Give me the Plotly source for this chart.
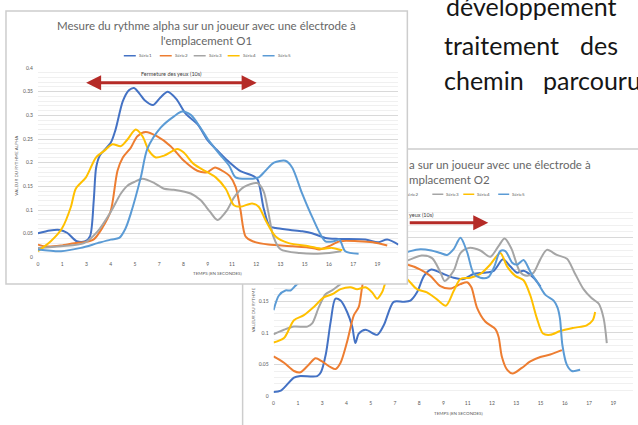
import plotly.graph_objects as go

W, H = 638, 425

# ---------------- data ----------------
TICK_LABELS = ["0", "1", "3", "4", "5", "7", "8", "9", "11", "12", "13", "15", "16", "17", "19"]
SERIES_NAMES = ["Série1", "Série2", "Série3", "Série4", "Série5"]
SERIES_COLORS = ["#4472C4", "#ED7D31", "#A5A5A5", "#FFC000", "#5B9BD5"]

# Chart O1 (x = position along the category axis, y = alpha rhythm value)
o1_s1_x = [0, 0.5, 0.9, 1.2, 1.6, 1.95, 2.15, 2.3, 2.4, 2.55, 3.0, 3.2, 3.5, 3.75, 3.96, 4.2, 4.4, 4.75, 5.05, 5.35, 5.7, 6.1, 6.6, 7.0, 7.4, 7.8, 8.35, 8.8, 9.05, 9.3, 9.55, 9.8, 10.4, 10.9, 11.3, 11.85, 12.4, 13.5, 14.03, 14.4, 14.86]
o1_s1_y = [0.051, 0.057, 0.058, 0.052, 0.034, 0.034, 0.045, 0.12, 0.19, 0.215, 0.242, 0.27, 0.33, 0.353, 0.358, 0.345, 0.332, 0.322, 0.338, 0.35, 0.335, 0.303, 0.28, 0.247, 0.226, 0.205, 0.182, 0.174, 0.165, 0.105, 0.066, 0.062, 0.058, 0.055, 0.051, 0.041, 0.039, 0.0375, 0.032, 0.0375, 0.027]
o1_s2_x = [0, 0.3, 0.95, 1.5, 1.9, 2.3, 2.65, 3.0, 3.28, 3.5, 3.83, 4.1, 4.44, 4.9, 5.47, 6.02, 6.57, 6.98, 7.3, 7.6, 7.9, 8.15, 8.35, 8.56, 8.85, 9.5, 10.5, 11.3, 11.6, 12.0, 12.45, 13.2, 13.8, 14.4]
o1_s2_y = [0.027, 0.023, 0.025, 0.03, 0.032, 0.038, 0.062, 0.098, 0.183, 0.211, 0.232, 0.256, 0.265, 0.256, 0.235, 0.204, 0.183, 0.18, 0.19, 0.183, 0.172, 0.149, 0.1, 0.044, 0.034, 0.027, 0.0236, 0.02, 0.0167, 0.0236, 0.034, 0.034, 0.032, 0.025]
o1_s3_x = [0, 0.95, 1.9, 2.46, 3.0, 3.42, 3.7, 4.0, 4.31, 4.8, 5.2, 5.6, 6.3, 6.7, 7.1, 7.4, 7.8, 8.1, 8.5, 9.04, 9.3, 9.5, 9.7, 10.0, 10.8, 11.7, 12.5]
o1_s3_y = [0.02, 0.0236, 0.03, 0.055, 0.096, 0.135, 0.152, 0.16, 0.166, 0.157, 0.145, 0.143, 0.135, 0.121, 0.096, 0.079, 0.1, 0.128, 0.149, 0.157, 0.14, 0.095, 0.045, 0.017, 0.009, 0.008, 0.013]
o1_s4_x = [0, 0.53, 1.0, 1.36, 1.56, 1.98, 2.39, 2.73, 3.07, 3.42, 3.69, 4.03, 4.31, 4.58, 4.86, 5.2, 5.75, 6.0, 6.43, 6.98, 7.33, 7.74, 8.08, 8.35, 8.83, 9.1, 9.38, 9.8, 10.34, 11.16, 11.72, 12.13, 12.55]
o1_s4_y = [0.013, 0.034, 0.062, 0.107, 0.145, 0.169, 0.211, 0.225, 0.239, 0.235, 0.249, 0.27, 0.256, 0.225, 0.211, 0.215, 0.229, 0.222, 0.197, 0.18, 0.169, 0.145, 0.11, 0.107, 0.114, 0.107, 0.079, 0.044, 0.03, 0.0236, 0.018, 0.02, 0.015]
o1_s5_x = [0, 0.95, 1.77, 2.46, 3.0, 3.35, 3.6, 3.83, 4.24, 4.51, 5.06, 5.61, 5.95, 6.3, 6.7, 7.0, 7.46, 7.88, 8.15, 8.7, 9.1, 9.38, 9.73, 10.2, 10.48, 10.89, 11.3, 11.85, 12.2, 12.43, 12.67, 13.22]
o1_s5_y = [0.0167, 0.013, 0.02, 0.03, 0.0375, 0.041, 0.06, 0.093, 0.169, 0.229, 0.274, 0.298, 0.308, 0.301, 0.274, 0.25, 0.22, 0.194, 0.169, 0.166, 0.169, 0.183, 0.2, 0.204, 0.19, 0.135, 0.086, 0.034, 0.034, 0.0375, 0.013, 0.0077]

# Chart O2
o2_s1_x = [0, 0.3, 0.84, 1.1, 1.8, 1.95, 2.15, 2.35, 2.55, 2.76, 3.03, 3.24, 3.37, 3.51, 3.79, 4.27, 4.54, 4.95, 5.36, 5.64, 5.91, 6.2, 6.5, 6.87, 7.42, 7.83, 8.24, 8.66, 9.07, 9.45, 9.75, 10.03, 10.3, 10.71, 11.0]
o2_s1_y = [0.007, 0.009, 0.0295, 0.032, 0.032, 0.038, 0.066, 0.117, 0.154, 0.151, 0.133, 0.11, 0.084, 0.099, 0.105, 0.097, 0.112, 0.149, 0.149, 0.151, 0.164, 0.19, 0.2, 0.195, 0.187, 0.185, 0.193, 0.195, 0.198, 0.216, 0.205, 0.195, 0.198, 0.187, 0.173]
o2_s2_x = [0, 0.43, 0.84, 1.11, 1.45, 1.73, 2.0, 2.35, 2.55, 2.76, 3.03, 3.31, 3.51, 3.72, 4.2, 5.0, 5.5, 6.05, 6.46, 6.87, 7.28, 7.7, 7.97, 8.15, 8.38, 8.72, 9.14, 9.27, 9.41, 9.62, 9.85, 10.23, 10.58, 10.99, 11.4, 11.88]
o2_s2_y = [0.063, 0.053, 0.04, 0.038, 0.05, 0.06, 0.055, 0.046, 0.043, 0.053, 0.086, 0.128, 0.141, 0.185, 0.22, 0.21, 0.208, 0.2, 0.19, 0.174, 0.17, 0.177, 0.18, 0.172, 0.14, 0.118, 0.106, 0.094, 0.062, 0.042, 0.036, 0.045, 0.055, 0.062, 0.066, 0.073]
o2_s3_x = [0, 0.43, 0.84, 1.39, 1.59, 1.87, 2.14, 2.41, 2.76, 3.5, 4.5, 5.2, 5.64, 6.1, 6.53, 6.87, 7.05, 7.42, 7.7, 8.05, 8.52, 8.93, 9.27, 9.52, 9.8, 10.16, 10.44, 10.71, 10.99, 11.26, 11.67, 12.09, 12.4, 12.77, 13.1, 13.4, 13.6, 13.73]
o2_s3_y = [0.098, 0.105, 0.11, 0.11, 0.115, 0.141, 0.161, 0.167, 0.177, 0.19, 0.205, 0.21, 0.216, 0.222, 0.218, 0.196, 0.182, 0.198, 0.226, 0.234, 0.23, 0.22, 0.237, 0.249, 0.233, 0.196, 0.19, 0.195, 0.216, 0.231, 0.223, 0.217, 0.195, 0.169, 0.155, 0.146, 0.123, 0.084]
o2_s4_x = [0, 0.43, 0.84, 1.25, 1.66, 2.07, 2.41, 2.76, 3.17, 3.44, 3.79, 4.06, 4.27, 4.47, 4.68, 5.1, 5.5, 5.91, 6.32, 6.73, 7.1, 7.42, 7.7, 8.11, 8.52, 8.93, 9.34, 9.62, 9.96, 10.3, 10.58, 10.85, 11.1, 11.4, 11.81, 12.36, 12.9, 13.15, 13.25]
o2_s4_y = [0.085, 0.092, 0.12, 0.128, 0.141, 0.156, 0.161, 0.169, 0.172, 0.169, 0.172, 0.164, 0.154, 0.164, 0.185, 0.195, 0.185, 0.169, 0.164, 0.153, 0.143, 0.166, 0.185, 0.187, 0.193, 0.208, 0.226, 0.205, 0.19, 0.183, 0.159, 0.123, 0.099, 0.097, 0.103, 0.108, 0.112, 0.12, 0.133]
o2_s5_x = [0, 0.22, 0.49, 0.7, 0.97, 2.0, 3.0, 4.0, 5.0, 5.64, 6.05, 6.5, 6.87, 7.15, 7.42, 7.7, 7.97, 8.24, 8.52, 8.85, 9.1, 9.34, 9.55, 9.85, 10.05, 10.3, 10.6, 10.87, 11.2, 11.54, 11.7, 11.8, 11.9, 12.08, 12.29, 12.63]
o2_s5_y = [0.136, 0.159, 0.167, 0.167, 0.177, 0.2, 0.21, 0.215, 0.22, 0.229, 0.232, 0.23, 0.226, 0.223, 0.232, 0.25, 0.228, 0.194, 0.187, 0.188, 0.205, 0.229, 0.229, 0.21, 0.208, 0.215, 0.195, 0.18, 0.16, 0.151, 0.14, 0.123, 0.081, 0.05, 0.04, 0.042]

o1_series = [(o1_s1_x, o1_s1_y), (o1_s2_x, o1_s2_y), (o1_s3_x, o1_s3_y), (o1_s4_x, o1_s4_y), (o1_s5_x, o1_s5_y)]
o2_series = [(o2_s1_x, o2_s1_y), (o2_s2_x, o2_s2_y), (o2_s3_x, o2_s3_y), (o2_s4_x, o2_s4_y), (o2_s5_x, o2_s5_y)]

# ---------------- helpers ----------------
CF = "Lato"
GREY = "#595959"
TITLE_GREY = "#666666"


def fx(px):
    return px / W


def fy(py):
    return 1 - py / H


def txt(text, px, py, size, color=GREY, xanchor="center", angle=0, family=CF):
    return dict(text=text, x=fx(px), y=fy(py), xref="paper", yref="paper", showarrow=False,
                xanchor=xanchor, yanchor="middle", textangle=angle,
                font=dict(size=size, color=color, family=family))


fig = go.Figure()

# chart O2 (drawn first, underneath)
for (xs, ys), name, col in zip(o2_series, SERIES_NAMES, SERIES_COLORS):
    fig.add_trace(go.Scatter(x=xs, y=ys, name=name, mode="lines", line=dict(color=col, width=2, shape="spline", smoothing=0.8),
                             xaxis="x", yaxis="y", showlegend=False, hoverinfo="skip"))

# cover panel for the O1 chart box (hides the O2 chart under it)
fig.add_trace(go.Scatter(x=[0.5], y=[0.5], mode="markers", marker=dict(size=1, color="rgba(0,0,0,0)"),
                         xaxis="x2", yaxis="y2", showlegend=False, hoverinfo="skip"))

# chart O1 (on top)
for (xs, ys), name, col in zip(o1_series, SERIES_NAMES, SERIES_COLORS):
    fig.add_trace(go.Scatter(x=xs, y=ys, name=name, mode="lines", line=dict(color=col, width=2, shape="spline", smoothing=0.8),
                             xaxis="x3", yaxis="y3", showlegend=False, hoverinfo="skip"))

tickfont = dict(size=5, color=GREY, family=CF)
xcommon = dict(tickmode="array", tickvals=list(range(len(TICK_LABELS))), ticktext=TICK_LABELS,
               showgrid=False, zeroline=False, showline=False, ticks="", tickfont=tickfont, ticklabelstandoff=3)
ycommon = dict(tick0=0, dtick=0.05, showgrid=True, gridcolor="#D9D9D9", gridwidth=1, zeroline=False,
               showline=False, ticks="", tickfont=tickfont, ticklabelstandoff=4,
               minor=dict(dtick=0.01, showgrid=True, gridcolor="#F0F0F0", gridwidth=1))

fig.update_layout(
    width=W, height=H, margin=dict(l=0, r=0, t=0, b=0),
    paper_bgcolor="white", plot_bgcolor="white", showlegend=False,
    xaxis=dict(domain=[fx(273), fx(633)], range=[0, 14.81], anchor="y", **xcommon),
    yaxis=dict(domain=[fy(399), fy(206)], range=[0, 0.3], anchor="x", **ycommon),
    xaxis2=dict(domain=[fx(5), fx(407)], range=[0, 1], anchor="y2", visible=False),
    yaxis2=dict(domain=[fy(285), fy(8)], range=[0, 1], anchor="x2", visible=False),
    xaxis3=dict(domain=[fx(37), fx(398)], range=[0, 14.86], anchor="y3", **xcommon),
    yaxis3=dict(domain=[fy(258), fy(66)], range=[0, 0.4], anchor="x3", **ycommon),
)

shapes = [
    # O2 chart frame (partly hidden by the O1 chart)
    dict(type="rect", xref="paper", yref="paper", x0=fx(242), x1=fx(660), y0=fy(445), y1=fy(148),
         line=dict(color="#CDCDCD", width=1.5), layer="below"),
    # O1 chart frame
    dict(type="rect", xref="paper", yref="paper", x0=fx(5), x1=fx(407), y0=fy(285), y1=fy(8),
         line=dict(color="#CDCDCD", width=1.5), layer="above"),
]

# legends
leg1_x = [123, 159, 193, 227, 262]
for lx, col, name in zip(leg1_x, SERIES_COLORS, SERIES_NAMES):
    shapes.append(dict(type="line", xref="paper", yref="paper", x0=fx(lx), x1=fx(lx + 12), y0=fy(53.5), y1=fy(53.5),
                       line=dict(color=col, width=1.5), layer="above"))
leg2_x = [432, 463, 498]
for lx, col in zip(leg2_x, SERIES_COLORS[2:]):
    shapes.append(dict(type="line", xref="paper", yref="paper", x0=fx(lx), x1=fx(lx + 11), y0=fy(194), y1=fy(194),
                       line=dict(color=col, width=1.5), layer="above"))
fig.update_layout(shapes=shapes)

ann = []
# chart O1 texts
ann.append(txt("Mesure du rythme alpha sur un joueur avec une électrode à<br>l'emplacement O1", 205.5, 30.5, 11.5, color=TITLE_GREY))
for lx, name in zip(leg1_x, SERIES_NAMES):
    ann.append(txt(name, lx + 13, 53.5, 4.5, xanchor="left"))
ann.append(txt("Fermeture des yeux (10s)", 171, 72, 5.5, color="#404040"))
ann.append(txt("VALEUR DU RYTHME ALPHA", 16, 164, 4.5, angle=-90))
ann.append(txt("TEMPS (EN SECONDES)", 217, 274, 4.5))
ann.append(dict(text="", x=fx(256), y=fy(81), xref="paper", yref="paper", ax=-172, ay=0, axref="pixel", ayref="pixel",
                showarrow=True, arrowhead=2, arrowsize=1, arrowwidth=3, arrowcolor="#B52B27", arrowside="end+start",
                standoff=0, startstandoff=0))

# chart O2 texts (visible parts only)
ann.append(txt("a sur un joueur avec une électrode à", 407, 164, 11.5, color=TITLE_GREY, xanchor="left"))
ann.append(txt("mplacement O2", 407, 179, 11.5, color=TITLE_GREY, xanchor="left"))
ann.append(txt("érie2", 406, 194, 4.5, xanchor="left"))
for lx, name in zip(leg2_x, SERIES_NAMES[2:]):
    ann.append(txt(name, lx + 12, 194, 4.5, xanchor="left"))
ann.append(txt("yeux (10s)", 407, 215, 5.5, color="#404040", xanchor="left"))
ann.append(dict(text="", x=fx(488), y=fy(223), xref="paper", yref="paper", ax=-80, ay=0, axref="pixel", ayref="pixel",
                showarrow=True, arrowhead=2, arrowsize=1, arrowwidth=3, arrowcolor="#B52B27", standoff=0))
ann.append(txt("VALEUR DU RYTHME", 253, 311, 4.5, angle=-90))
ann.append(txt("TEMPS (EN SECONDES)", 458, 416, 4.5))

# page text to the right
PF = "Lato"
PS = 25
PC = "#161616"
ann.append(txt("développement", 444, 3, PS, color=PC, xanchor="left", family=PF))
ann.append(txt("traitement", 442, 43, PS, color=PC, xanchor="left", family=PF))
ann.append(txt("des", 578, 43, PS, color=PC, xanchor="left", family=PF))
ann.append(txt("chemin", 442, 78, PS, color=PC, xanchor="left", family=PF))
ann.append(txt("parcouru", 541, 78, PS, color=PC, xanchor="left", family=PF))

fig.update_layout(annotations=ann)

fig.write_html("out.html", post_script="document.body.style.margin='0px';",
               config={"displayModeBar": False})
